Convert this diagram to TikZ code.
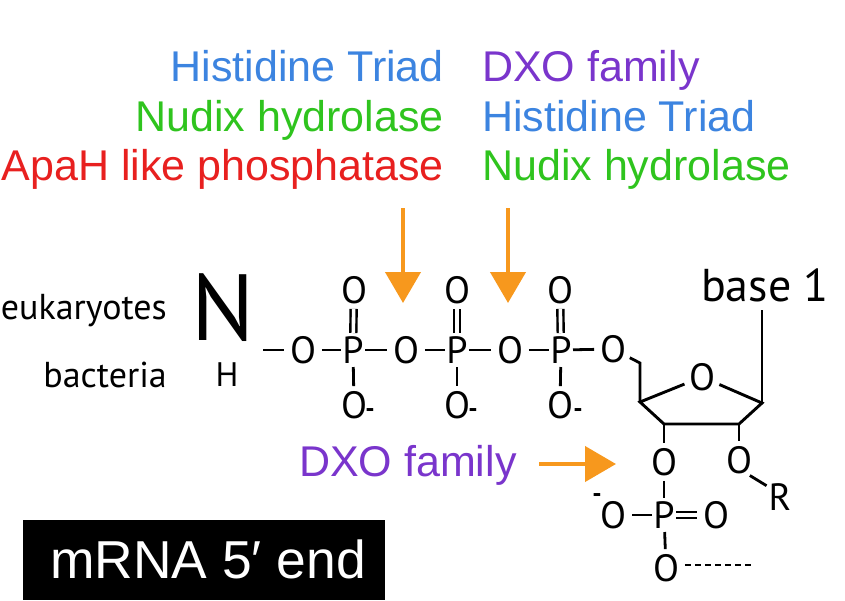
\documentclass[tikz,border=0pt]{standalone}
\usepackage{fontspec}
\setmainfont{PT Sans}
\newfontfamily\headfont{Liberation Sans}
\usetikzlibrary{arrows.meta}
\definecolor{hitblue}{HTML}{3C84E0}
\definecolor{nudgreen}{HTML}{2FC41E}
\definecolor{apared}{HTML}{E8201F}
\definecolor{dxopurple}{HTML}{7A35CC}
\definecolor{cutorange}{HTML}{F7981D}
\tikzset{
  x=1pt,y=-1pt,
  head/.style={font=\headfont\fontsize{43}{43}\selectfont,inner sep=0pt},
  atom/.style={circle,inner sep=0pt,minimum size=30pt,outer sep=0pt,text=black,font=\fontsize{38}{38}\selectfont},
  patom/.style={rectangle,inner sep=0pt,minimum width=24pt,minimum height=34pt,outer sep=0pt,text=black,font=\fontsize{38}{38}\selectfont},
  bond/.style={draw=black,line width=2.8pt},
  dbond/.style={draw=black,line width=2.4pt,double=white,double distance=3.6pt},
  ring/.style={draw=black,line width=2.9pt,line join=miter},
  cut/.style={draw=cutorange,line width=4.2pt,-{Triangle[length=31pt,width=35pt]}},
  orgname/.style={inner sep=0pt,font=\fontsize{36}{36}\selectfont},
  sign/.style={inner sep=0pt,font=\bfseries\fontsize{26}{26}\selectfont}
}
\begin{document}
\begin{tikzpicture}
\useasboundingbox (0,0) rectangle (845,600);
\fill[white] (0,0) rectangle (845,600);
% enzyme labels
\node[head,anchor=base east,text=hitblue] (l1) at (444,81) {Histidine Triad};
\node[head,anchor=base east,text=nudgreen] (l2) at (444,131) {Nudix hydrolase};
\node[head,anchor=base east,text=apared] (l3) at (444,180) {ApaH like phosphatase};
\node[head,anchor=base west,text=dxopurple] (r1) at (482,81) {DXO family};
\node[head,anchor=base west,text=hitblue] (r2) at (482,131) {Histidine Triad};
\node[head,anchor=base west,text=nudgreen] (r3) at (482,180) {Nudix hydrolase};
\node[head,anchor=base west,text=dxopurple] (d3) at (299,476) {DXO family};
% organism labels
\node[orgname,anchor=base east] (euk) at (167,319) {eukaryotes};
\node[orgname,anchor=base east] (bac) at (167,387) {bacteria};
\node[inner sep=0pt,anchor=base,font=\fontsize{94}{94}\selectfont] (bigN) at (223,340) {N};
\node[inner sep=0pt,anchor=base,font=\fontsize{34}{34}\selectfont] (bigH) at (227,386) {H};
\node[inner sep=0pt,anchor=base,font=\fontsize{46}{46}\selectfont] (base1) at (765,301) {base 1};
% triphosphate
\node[atom] (o1) at (303,350) {O};
\node[patom] (p1) at (353,350) {P};
\node[atom] (o2) at (406,350) {O};
\node[patom] (p2) at (457,350) {P};
\node[atom] (o3) at (510,350) {O};
\node[patom] (p3) at (561,350) {P};
\node[atom] (o4) at (613,349) {O};
\node[atom] (t1) at (354,290) {O};
\node[atom] (t2) at (457,290) {O};
\node[atom] (t3) at (560,290) {O};
\node[atom] (b1) at (354,405) {O};
\node[atom] (b2) at (457,405) {O};
\node[atom] (b3) at (560,405) {O};
\node[sign] at (370,413) {-};
\node[sign] at (473,413) {-};
\node[sign] at (578,413) {-};
\coordinate (lead) at (263,350);
\draw[bond] (lead) -- (o1);
\draw[bond] (o1) -- (p1);
\draw[bond] (p1) -- (o2);
\draw[bond] (o2) -- (p2);
\draw[bond] (p2) -- (o3);
\draw[bond] (o3) -- (p3);
\draw[bond] (p3) -- (o4);
\draw[dbond] (p1) -- (t1);
\draw[dbond] (p2) -- (t2);
\draw[dbond] (p3) -- (t3);
\draw[bond] (p1) -- (b1);
\draw[bond] (p2) -- (b2);
\draw[bond] (p3) -- (b3);
% ribose
\coordinate (c5) at (640,363);
\coordinate (c4) at (640,402);
\coordinate (c3) at (664,424);
\coordinate (c2) at (739,424);
\coordinate (c1) at (762,403);
\coordinate (basefoot) at (762,310);
\node[atom] (oring) at (702,377) {O};
\node[atom] (o3p) at (664,462) {O};
\node[atom] (o2p) at (739,460) {O};
\node[atom,minimum size=24pt] (rgrp) at (780,497) {R};
\node[patom] (p4) at (664,515) {P};
\node[atom] (o5) at (613,515) {O};
\node[atom] (o6) at (716,515) {O};
\node[atom] (o7) at (666,568) {O};
\node[sign] at (597,498) {-};
\coordinate (dashend) at (752,565);
\draw[bond,line join=miter] (o4) -- (c5) -- (c4);
\draw[ring] (oring) -- (c4) -- (c3) -- (c2) -- (c1) -- (oring);
\draw[ring] (c1) -- (basefoot);
\draw[bond] (c3) -- (o3p);
\draw[bond] (c2) -- (o2p);
\draw[bond] (o2p.-55) -- (rgrp.140);
\draw[bond] (o3p) -- (p4);
\draw[bond] (p4) -- (o5);
\draw[dbond] (p4) -- (o6);
\draw[bond] (p4) -- (o7);
\draw[bond,dash pattern=on 6pt off 4pt] (o7.east |- dashend) -- (dashend);
% arrows
\coordinate (a1s) at (403,208); \coordinate (a1e) at (403,303);
\coordinate (a2s) at (508,208); \coordinate (a2e) at (508,303);
\coordinate (a3s) at (539,464); \coordinate (a3e) at (616,464);
\draw[cut] (a1s) -- (a1e);
\draw[cut] (a2s) -- (a2e);
\draw[cut] (a3s) -- (a3e);
% title
\node[fill=black,text=white,minimum width=362pt,minimum height=80pt,anchor=north west,inner sep=0pt] (box) at (23,520) {};
\node[anchor=base west,inner sep=0pt,text=white,font=\headfont\fontsize{53.4}{53.4}\selectfont] (title) at (50,578) {mRNA 5′ end};
\end{tikzpicture}
\end{document}
